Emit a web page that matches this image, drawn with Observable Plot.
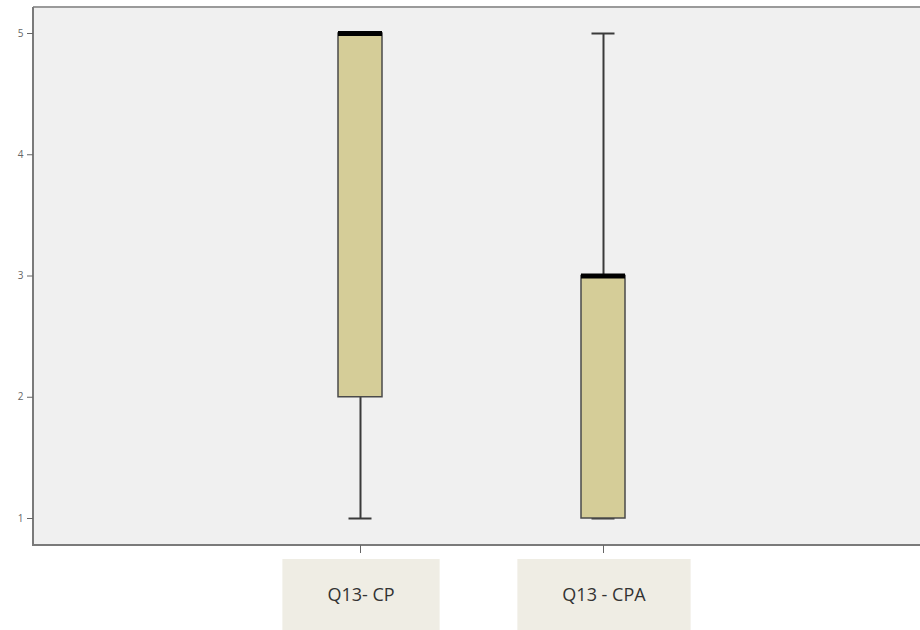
<!DOCTYPE html>
<html>
<head>
<meta charset="utf-8">
<script src="https://cdn.jsdelivr.net/npm/d3@7"></script>
<script src="https://cdn.jsdelivr.net/npm/@observablehq/plot@0.6"></script>
<style>
  html, body { margin: 0; padding: 0; background: #ffffff; }
  #chart { width: 920px; height: 630px; }
</style>
</head>
<body>
<div id="chart"></div>
<script>
// Box-plot summaries for the two Q13 variables
const categories = ["Q13- CP", "Q13 - CPA"];
const lowWhisker = [1, 1];
const lowerQuartile = [2, 1];
const median = [5, 3];
const upperQuartile = [5, 3];
const highWhisker = [5, 5];
const yTicks = [1, 2, 3, 4, 5];

const rows = categories.map((category, i) => ({
  category,
  lo: lowWhisker[i],
  q1: lowerQuartile[i],
  med: median[i],
  q3: upperQuartile[i],
  hi: highWhisker[i]
}));

const labelFont = "18px 'Open Sans'";
const measure = (() => {
  const ctx = document.createElement("canvas").getContext("2d");
  ctx.font = labelFont;
  return (s) => ctx.measureText(s).width;
})();

// Plot-area border: left, bottom and top edges only
function border(index, scales, values, dim) {
  const g = d3.create("svg:g");
  const x0 = dim.marginLeft, x1 = dim.width - dim.marginRight;
  const y0 = dim.marginTop, y1 = dim.height - dim.marginBottom;
  g.append("line").attr("x1", x0).attr("x2", x1).attr("y1", y0).attr("y2", y0)
    .attr("stroke", "#9a9a9a").attr("stroke-width", 2);
  g.append("line").attr("x1", x0).attr("x2", x0).attr("y1", y0).attr("y2", y1 + 1)
    .attr("stroke", "#7a7a7a").attr("stroke-width", 2);
  g.append("line").attr("x1", x0).attr("x2", x1).attr("y1", y1).attr("y2", y1)
    .attr("stroke", "#7a7a7a").attr("stroke-width", 2);
  return g.node();
}

// Category labels set in shaded boxes under the x axis
function categoryLabels(index, scales, values, dim) {
  const g = d3.create("svg:g");
  const bw = scales.x.bandwidth ? scales.x.bandwidth() : 0;
  const top = dim.height - dim.marginBottom + 14;
  for (const c of categories) {
    const cx = scales.x(c) + bw / 2;
    const w = measure(c) + 90;
    g.append("rect").attr("x", cx + 1 - w / 2).attr("y", top)
      .attr("width", w).attr("height", dim.height - top)
      .attr("fill", "#efede4");
    g.append("text").attr("x", cx + 1).attr("y", top + 42)
      .attr("text-anchor", "middle")
      .attr("font-family", "'Open Sans', sans-serif")
      .attr("font-size", 18)
      .attr("fill", "#333")
      .text(c);
  }
  return g.node();
}

const chart = Plot.plot({
  width: 920,
  height: 630,
  marginTop: 7,
  marginRight: 0,
  marginBottom: 85,
  marginLeft: 33,
  style: { background: "#ffffff", fontFamily: "'Open Sans', sans-serif" },
  x: {
    type: "band",
    domain: categories,
    range: [238.5, 724.5],
    paddingInner: 0.819,
    paddingOuter: 0.4095,
    axis: null
  },
  y: { domain: [1, 5], range: [518, 33], axis: null },
  marks: [
    Plot.frame({ fill: "#f0f0f0", stroke: "none" }),
    border,
    Plot.axisY({ ticks: yTicks, tickSize: 6, tickPadding: 4, fontSize: 10, color: "#666", label: null, tickFormat: d3.format("d") }),
    Plot.axisX({ tickSize: 8, tickFormat: () => "", color: "#666", label: null }),
    Plot.ruleX(rows, { x: "category", y1: "lo", y2: "hi", stroke: "#3a3a3a", strokeWidth: 2 }),
    Plot.tickY(rows, { x: "category", y: "lo", stroke: "#3a3a3a", strokeWidth: 2, insetLeft: 10.5, insetRight: 10.5 }),
    Plot.tickY(rows, { x: "category", y: "hi", stroke: "#3a3a3a", strokeWidth: 2, insetLeft: 10.5, insetRight: 10.5 }),
    Plot.barY(rows, { x: "category", y1: "q1", y2: "q3", fill: "#d5cd98", stroke: "#4a4a4a", strokeWidth: 1.5 }),
    Plot.tickY(rows, { x: "category", y: "med", stroke: "#000", strokeWidth: 5 }),
    categoryLabels
  ]
});

document.getElementById("chart").appendChild(chart);
</script>
</body>
</html>
